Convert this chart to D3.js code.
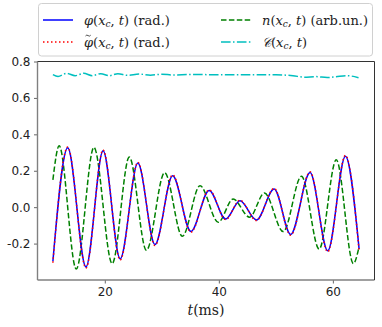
<!DOCTYPE html>
<html>
<head>
  <script src="https://d3js.org/d3.v7.min.js"></script>
  <style>
    body { margin: 0; background: #fff; }
    .tick text { font-family: "DejaVu Sans", sans-serif; font-size: 12px; fill: #222; }
  </style>
</head>
<body>
<div id="chart"></div>
<script>
// values (t in ms)
var phiT   = [10.9, 13.5, 16.7, 19.7, 22.7, 25.8, 28.8, 31.9, 35.1, 38.3, 41.2, 43.7, 46.6, 49.7, 52.6, 56.0, 59.1, 62.2, 64.6];
var phiV   = [-0.297, 0.326, -0.328, 0.31, -0.284, 0.242, -0.205, 0.173, -0.133, 0.092, -0.065, 0.035, -0.07, 0.1, -0.15, 0.19, -0.24, 0.28, -0.23];
var phiTilV = [-0.305, 0.33, -0.334, 0.314, -0.29, 0.246, -0.21, 0.177, -0.137, 0.095, -0.068, 0.038, -0.073, 0.103, -0.154, 0.194, -0.245, 0.284, -0.24];
var nT     = [10.9, 12.0, 15.0, 18.1, 21.3, 24.3, 27.3, 30.5, 33.6, 36.7, 39.9, 42.5, 45.4, 48.0, 51.3, 54.5, 57.6, 60.6, 63.6, 64.5];
var nV     = [0.15, 0.337, -0.34, 0.328, -0.31, 0.275, -0.237, 0.19, -0.16, 0.118, -0.083, 0.045, -0.055, 0.078, -0.134, 0.17, -0.23, 0.26, -0.31, -0.23];
var cT     = [10.9, 11.8, 13.3, 14.8, 16.3, 17.8, 19.3, 20.8, 22.3, 24, 26, 28, 30, 32, 35, 40, 45, 50, 53, 55, 57, 59, 60.5, 62.5, 64.5];
var cV     = [0.728, 0.718, 0.735, 0.722, 0.735, 0.722, 0.733, 0.722, 0.733, 0.724, 0.731, 0.725, 0.730, 0.726, 0.729, 0.727, 0.727, 0.727, 0.722, 0.714, 0.717, 0.712, 0.716, 0.722, 0.711];
var xTicks = [20, 40, 60];
var yTicks = [0.8, 0.6, 0.4, 0.2, 0.0, -0.2];

var SERIF = "'DejaVu Serif', 'Liberation Serif', serif";

var W = 382, H = 327;
var m = {left: 37.5, right: 7.5, top: 61.5, bottom: 47};
var w = W - m.left - m.right, h = H - m.top - m.bottom;

var x = d3.scaleLinear().domain([8.2, 67.3]).range([0, w]);
var y = d3.scaleLinear().domain([-0.4, 0.8]).range([h, 0]);

var svg = d3.select("#chart").append("svg").attr("width", W).attr("height", H);
var g = svg.append("g").attr("transform", "translate(" + m.left + "," + m.top + ")");

var line = d3.line()
  .x(function(d) { return x(d[0]); })
  .y(function(d) { return y(d[1]); })
  .curve(d3.curveMonotoneX);

function zip(a, b) { return a.map(function(t, i) { return [t, b[i]]; }); }

// series
g.append("path").datum(zip(nT, nV)).attr("fill", "none").attr("stroke", "#008000")
  .attr("stroke-width", 1.5).attr("stroke-dasharray", "5.5,2.4").attr("d", line);
g.append("path").datum(zip(phiT, phiV)).attr("fill", "none").attr("stroke", "#0000ff")
  .attr("stroke-width", 1.5).attr("d", line);
g.append("path").datum(zip(phiT, phiTilV)).attr("fill", "none").attr("stroke", "#ff0000")
  .attr("stroke-width", 1.5).attr("stroke-dasharray", "1.5,2.5").attr("d", line);
g.append("path").datum(zip(cT, cV)).attr("fill", "none").attr("stroke", "#00bfbf")
  .attr("stroke-width", 1.5).attr("stroke-dasharray", "9.6,2.4,1.5,2.4").attr("d", line);

// axes
var xAxis = g.append("g").attr("transform", "translate(0," + h + ")")
  .call(d3.axisBottom(x).tickValues(xTicks).tickSize(3.5).tickPadding(3.5).tickFormat(d3.format("d")));
var yAxis = g.append("g")
  .call(d3.axisLeft(y).tickValues(yTicks).tickSize(3.5).tickPadding(3.5).tickFormat(function(d) { return d3.format(".1f")(d).replace("\u2212", "-"); }));
[xAxis, yAxis].forEach(function(a) {
  a.select(".domain").remove();
  a.selectAll(".tick line").attr("stroke", "#666");
  a.attr("font-family", null).attr("font-size", null);
});

// frame
g.append("line").attr("x1", 0).attr("x2", 0).attr("y1", 0).attr("y2", h).attr("stroke", "#808080").attr("stroke-width", 1.4);
g.append("line").attr("x1", 0).attr("x2", w).attr("y1", h).attr("y2", h).attr("stroke", "#808080").attr("stroke-width", 1.4);
g.append("line").attr("x1", 0).attr("x2", w).attr("y1", 0).attr("y2", 0).attr("stroke", "#333").attr("stroke-width", 1);
g.append("line").attr("x1", w).attr("x2", w).attr("y1", 0).attr("y2", h).attr("stroke", "#333").attr("stroke-width", 1);

// x label
var xl = svg.append("text").attr("x", 206).attr("y", 315).attr("text-anchor", "middle")
  .style("font-family", SERIF).style("font-size", "14px").style("fill", "#222");
xl.append("tspan").style("font-style", "italic").text("t");
xl.append("tspan").text("(ms)");

// legend
var leg = svg.append("g");
leg.append("rect").attr("x", 38.5).attr("y", 3.5).attr("width", 334).attr("height", 52.5).attr("rx", 3)
  .attr("fill", "#fff").attr("stroke", "#d0d0d0");

var items = [
  {col: 0, row: 0, color: "#0000ff", dash: null, sym: "φ", tilde: false, tail: " (rad.)"},
  {col: 0, row: 1, color: "#ff0000", dash: "1.5,2.5", sym: "φ", tilde: true, tail: " (rad.)"},
  {col: 1, row: 0, color: "#008000", dash: "5.5,2.4", sym: "n", tilde: false, tail: " (arb.un.)"},
  {col: 1, row: 1, color: "#00bfbf", dash: "9.6,2.4,1.5,2.4", sym: "𝒞", tilde: false, tail: ""}
];
var colX = [43, 221], rowY = [20, 42];
items.forEach(function(it) {
  var x0 = colX[it.col], y0 = rowY[it.row];
  leg.append("line").attr("x1", x0).attr("x2", x0 + 30).attr("y1", y0).attr("y2", y0)
    .attr("stroke", it.color).attr("stroke-width", 1.5).attr("stroke-dasharray", it.dash);
  var tx = x0 + 41, ty = y0 + 4.5;
  var t = leg.append("text").attr("x", tx).attr("y", ty)
    .style("font-family", SERIF).style("font-size", "13px").style("fill", "#222");
  t.append("tspan").style("font-style", "italic").text(it.sym);
  t.append("tspan").text("(");
  t.append("tspan").style("font-style", "italic").text("x");
  t.append("tspan").style("font-style", "italic").style("font-size", "9px").attr("dy", 2.5).text("c");
  t.append("tspan").attr("dy", -2.5).text(", ");
  t.append("tspan").style("font-style", "italic").text("t");
  t.append("tspan").text(")" + it.tail);
  if (it.tilde) {
    // tilde accent drawn as a small path above the symbol
    leg.append("path")
      .attr("d", "M" + (tx + 1.5) + "," + (ty - 10.5) + " q1.2,-1.6 2.6,-0.4 t2.6,-0.4")
      .attr("fill", "none").attr("stroke", "#222").attr("stroke-width", 0.8);
  }
});
</script>
</body>
</html>
